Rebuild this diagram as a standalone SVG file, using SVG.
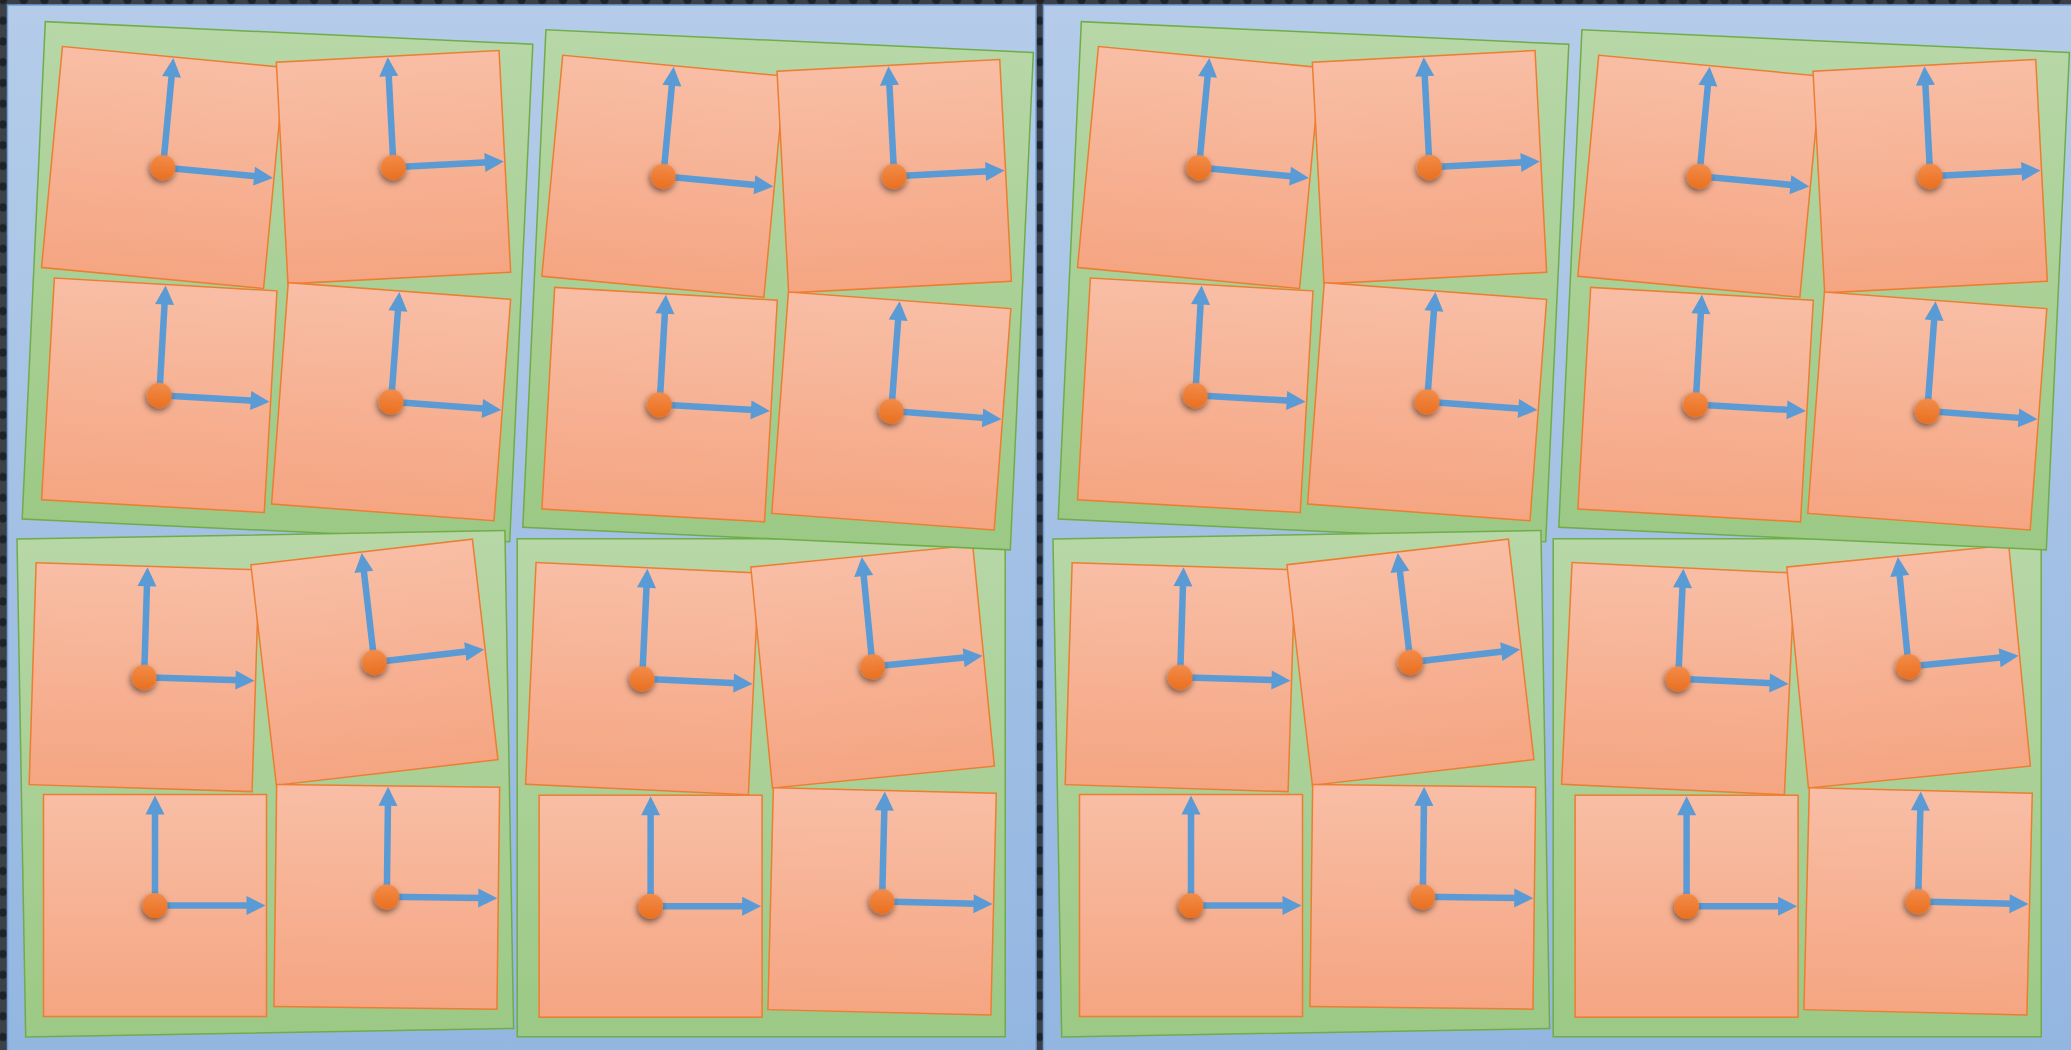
<svg xmlns="http://www.w3.org/2000/svg" xmlns:xlink="http://www.w3.org/1999/xlink" width="2071" height="1050" viewBox="0 0 2071 1050">
<defs>
<style>
.panel{fill:url(#gPanel);stroke:#6e9fd6;stroke-width:1.5}
.green{fill:url(#gGreen);stroke:#70ad47;stroke-width:1.5}
.sq{fill:url(#gOrange);stroke:#ed7d31;stroke-width:1.5}
.ax{stroke:#5b9bd5;stroke-width:6.5;fill:none}
.ah{fill:#5b9bd5}
.dot{fill:url(#gDot);filter:url(#sh)}
</style>
<pattern id="dots" patternUnits="userSpaceOnUse" x="-7.37" y="-10.37" width="20.74" height="20.74">
<rect width="20.74" height="20.74" fill="#3c4149"/>
<circle cx="10.37" cy="10.37" r="4.2" fill="#1f2226"/>
</pattern>
<linearGradient id="gPanel" x1="0" y1="0" x2="0" y2="1">
<stop offset="0" stop-color="#b4cce9"/><stop offset="1" stop-color="#93b6e1"/>
</linearGradient>
<linearGradient id="gGreen" x1="0" y1="0" x2="0" y2="1">
<stop offset="0" stop-color="#b7d7a7"/><stop offset="1" stop-color="#9cc985"/>
</linearGradient>
<linearGradient id="gOrange" x1="0" y1="0" x2="0" y2="1">
<stop offset="0" stop-color="#f8bea5"/><stop offset="1" stop-color="#f5a582"/>
</linearGradient>
<linearGradient id="gDot" x1="0" y1="0" x2="0" y2="1">
<stop offset="0" stop-color="#f28c4a"/><stop offset="1" stop-color="#ea6f1e"/>
</linearGradient>
<filter id="sh" x="-80%" y="-80%" width="260%" height="260%">
<feDropShadow dx="-1" dy="3" stdDeviation="3" flood-color="#000" flood-opacity="0.55"/>
</filter>
<g id="tile">
<rect class="sq" x="-111.5" y="-111" width="223" height="222"/>
<path class="ax" d="M0 0V-95"/>
<path class="ax" d="M0 0H95"/>
<path class="ah" d="M0-110L-9.5-91H9.5Z"/>
<path class="ah" d="M110.5 0L91.5-9.5V9.5Z"/>
<circle class="dot" r="12.5"/>
</g>
<rect id="frame" class="green" x="-244" y="-249" width="488" height="498"/>
</defs>

<rect width="2071" height="1050" fill="url(#dots)"/>

<g id="panel-left">
<rect class="panel" x="7.5" y="5" width="1028.5" height="1050"/>
<g id="L-G1">
<use href="#frame" transform="translate(277.5 281.65) rotate(2.66)"/>
<g id="L-A1" transform="translate(163 167.5) rotate(5.4)"><use href="#tile"/></g>
<g id="L-A2" transform="translate(393.5 167.2) rotate(-3)"><use href="#tile"/></g>
<g id="L-A3" transform="translate(159.3 395.3) rotate(3.3)"><use href="#tile"/></g>
<g id="L-A4" transform="translate(391.1 401.7) rotate(4.3)"><use href="#tile"/></g>
</g>
<g id="L-G3">
<use href="#frame" transform="translate(265.3 783.8) rotate(-1)"/>
<g id="L-C1" transform="translate(144.1 677.2) rotate(1.8)"><use href="#tile"/></g>
<g id="L-C2" transform="translate(374.4 662.2) rotate(-6.6)"><use href="#tile"/></g>
<g id="L-C3" transform="translate(155 905.5)"><use href="#tile"/></g>
<g id="L-C4" transform="translate(386.8 896.8) rotate(0.7)"><use href="#tile"/></g>
</g>
<g id="L-G4">
<use href="#frame" transform="translate(761.2 787.75)"/>
<g id="L-D1" transform="translate(642.2 678.7) rotate(2.7)"><use href="#tile"/></g>
<g id="L-D2" transform="translate(872.6 666.6) rotate(-5.6)"><use href="#tile"/></g>
<g id="L-D3" transform="translate(650.6 906.2)"><use href="#tile"/></g>
<g id="L-D4" transform="translate(882.1 901.4) rotate(1.4)"><use href="#tile"/></g>
</g>
<g id="L-G2">
<use href="#frame" transform="translate(778.1 289.85) rotate(2.66)"/>
<g id="L-B1" transform="translate(663.3 176.2) rotate(5.4)"><use href="#tile"/></g>
<g id="L-B2" transform="translate(894.2 176.2) rotate(-3)"><use href="#tile"/></g>
<g id="L-B3" transform="translate(659.6 404.6) rotate(3.3)"><use href="#tile"/></g>
<g id="L-B4" transform="translate(891.3 411) rotate(4.3)"><use href="#tile"/></g>
</g>
</g>

<g id="panel-right">
<rect class="panel" x="1043.5" y="5" width="1030" height="1050"/>
<g id="R-G1">
<use href="#frame" transform="translate(1313.5 281.65) rotate(2.66)"/>
<g id="R-A1" transform="translate(1199 167.5) rotate(5.4)"><use href="#tile"/></g>
<g id="R-A2" transform="translate(1429.5 167.2) rotate(-3)"><use href="#tile"/></g>
<g id="R-A3" transform="translate(1195.3 395.3) rotate(3.3)"><use href="#tile"/></g>
<g id="R-A4" transform="translate(1427.1 401.7) rotate(4.3)"><use href="#tile"/></g>
</g>
<g id="R-G3">
<use href="#frame" transform="translate(1301.3 783.8) rotate(-1)"/>
<g id="R-C1" transform="translate(1180.1 677.2) rotate(1.8)"><use href="#tile"/></g>
<g id="R-C2" transform="translate(1410.4 662.2) rotate(-6.6)"><use href="#tile"/></g>
<g id="R-C3" transform="translate(1191 905.5)"><use href="#tile"/></g>
<g id="R-C4" transform="translate(1422.8 896.8) rotate(0.7)"><use href="#tile"/></g>
</g>
<g id="R-G4">
<use href="#frame" transform="translate(1797.2 787.75)"/>
<g id="R-D1" transform="translate(1678.2 678.7) rotate(2.7)"><use href="#tile"/></g>
<g id="R-D2" transform="translate(1908.6 666.6) rotate(-5.6)"><use href="#tile"/></g>
<g id="R-D3" transform="translate(1686.6 906.2)"><use href="#tile"/></g>
<g id="R-D4" transform="translate(1918.1 901.4) rotate(1.4)"><use href="#tile"/></g>
</g>
<g id="R-G2">
<use href="#frame" transform="translate(1814.1 289.85) rotate(2.66)"/>
<g id="R-B1" transform="translate(1699.3 176.2) rotate(5.4)"><use href="#tile"/></g>
<g id="R-B2" transform="translate(1930.2 176.2) rotate(-3)"><use href="#tile"/></g>
<g id="R-B3" transform="translate(1695.6 404.6) rotate(3.3)"><use href="#tile"/></g>
<g id="R-B4" transform="translate(1927.3 411) rotate(4.3)"><use href="#tile"/></g>
</g>
</g>
</svg>
